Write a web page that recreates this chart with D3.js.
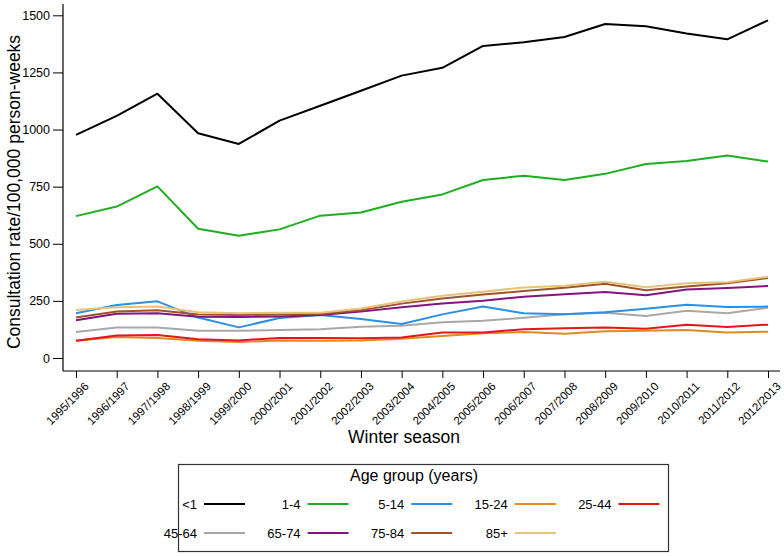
<!DOCTYPE html>
<html>
<head>
<meta charset="utf-8">
<script src="https://cdn.jsdelivr.net/npm/d3@7"></script>
<style>
html,body{margin:0;padding:0;background:#fff;}
svg{display:block;font-family:"Liberation Sans",Arial,sans-serif;}
</style>
</head>
<body>
<svg id="chart" width="784" height="556"></svg>
<script>
const seasons = ["1995/1996","1996/1997","1997/1998","1998/1999","1999/2000","2000/2001","2001/2002","2002/2003","2003/2004","2004/2005","2005/2006","2006/2007","2007/2008","2008/2009","2009/2010","2010/2011","2011/2012","2012/2013"];
const yTicks = [0,250,500,750,1000,1250,1500];

const lt1    = [977,1060,1157,984,937,1039,1104,1170,1236,1270,1366,1382,1405,1462,1452,1420,1395,1478];
const a1_4   = [621,663,751,566,535,563,623,637,684,716,779,798,779,806,849,862,886,860];
const a5_14  = [196,232,248,177,134,175,188,171,149,191,225,196,191,200,216,233,223,225];
const a15_24 = [76,92,88,76,70,77,76,77,84,96,108,114,106,117,119,123,112,115];
const a25_44 = [76,98,101,82,77,88,88,86,90,112,112,126,130,134,128,146,136,146];
const a45_64 = [114,134,134,119,119,123,126,137,141,156,163,176,191,198,184,207,196,220];
const a65_74 = [165,194,196,181,179,182,188,203,222,239,251,268,279,289,275,300,306,315];
const a75_84 = [177,204,209,190,188,190,194,209,238,260,278,293,307,325,297,313,327,350];
const a85p   = [210,222,225,200,196,198,198,217,247,272,290,309,316,334,310,327,332,356];

const groups = ["<1","1-4","5-14","15-24","25-44","45-64","65-74","75-84","85+"];
const seriesValues = [lt1,a1_4,a5_14,a15_24,a25_44,a45_64,a65_74,a75_84,a85p];
const colors = ["#000000","#1fae1f","#2a8fe6","#e08a22","#e3161c","#a8a8a8","#82157f","#a0522d","#e6c27a"];

const svg = d3.select("#chart");
const x = d3.scalePoint().domain(seasons).range([76, 768]);
const y = d3.scaleLinear().domain([0,1500]).range([358, 15.3]);

const line = d3.line().x((d,i)=>x(seasons[i])).y(d=>y(d));
const order = [5,3,4,2,6,7,8,1,0];
order.forEach(k=>{
  svg.append("path").datum(seriesValues[k])
    .attr("d", line).attr("fill","none")
    .attr("stroke", colors[k]).attr("stroke-width",2)
    .attr("stroke-linejoin","round");
});

// y axis
const yAxis = svg.append("g").attr("transform","translate(63,0)");
yAxis.append("line").attr("x1",0).attr("x2",0).attr("y1",4).attr("y2",371).attr("stroke","#000").attr("stroke-width",1.2);
yAxis.call(d3.axisLeft(y).tickValues(yTicks).tickFormat(d3.format("d")).tickSize(10).tickPadding(3));
yAxis.select(".domain").remove();
yAxis.selectAll(".tick line").attr("stroke","#000");
yAxis.selectAll(".tick text").attr("font-size",12.5).attr("fill","#000").attr("font-family","Liberation Sans, Arial, sans-serif");

// x axis
const xAxis = svg.append("g").attr("transform","translate(0,371)");
xAxis.append("line").attr("x1",63).attr("x2",780).attr("y1",0).attr("y2",0).attr("stroke","#000").attr("stroke-width",1.2);
xAxis.call(d3.axisBottom(x).tickSize(7).tickPadding(3));
xAxis.select(".domain").remove();
xAxis.selectAll(".tick line").attr("stroke","#000");
xAxis.selectAll(".tick text")
  .attr("font-size",11.5).attr("fill","#000").attr("font-family","Liberation Sans, Arial, sans-serif")
  .attr("text-anchor","end").attr("dy","0")
  .attr("transform","translate(6,9) rotate(-45)");

// axis titles
svg.append("text").attr("x",404).attr("y",443).attr("text-anchor","middle")
  .attr("font-size",17.5).text("Winter season");
svg.append("text").attr("transform","translate(20,192) rotate(-90)").attr("text-anchor","middle")
  .attr("font-size",17.5).text("Consultation rate/100,000 person-weeks");

// legend
const lg = svg.append("g");
lg.append("rect").attr("x",178.5).attr("y",464.5).attr("width",490).attr("height",87)
  .attr("fill","#fff").attr("stroke","#333").attr("stroke-width",1.2);
lg.append("text").attr("x",414).attr("y",481).attr("text-anchor","middle").attr("font-size",16).text("Age group (years)");
groups.forEach((g,i)=>{
  const col = i%5, row = Math.floor(i/5);
  const lx = 197 + col*103.6;
  const ly = 504 + row*29;
  lg.append("text").attr("x",lx).attr("y",ly+4.5).attr("text-anchor","end").attr("font-size",13).text(g);
  lg.append("line").attr("x1",lx+7).attr("x2",lx+48).attr("y1",ly).attr("y2",ly)
    .attr("stroke",colors[i]).attr("stroke-width",2);
});
</script>
</body>
</html>
